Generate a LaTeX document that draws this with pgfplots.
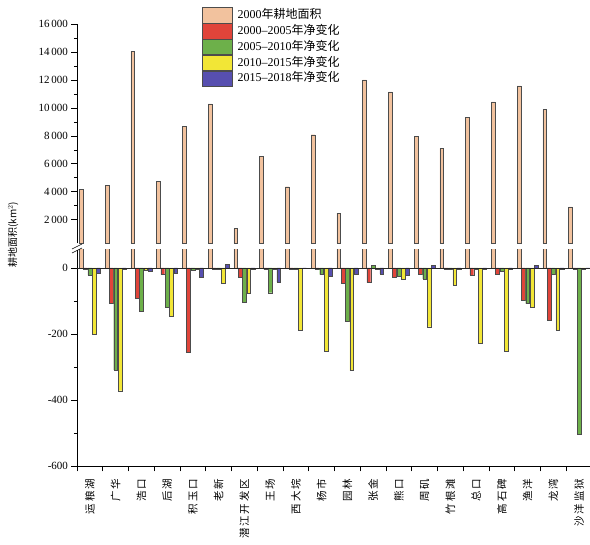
\documentclass[border=0pt]{standalone}
\usepackage{pgfplots}
\usepackage{pgfplotstable}
\pgfplotsset{compat=1.18}
\usepackage{fontspec}
\setmainfont{Liberation Serif}
\newfontfamily\cjk{Noto Sans CJK SC}
\newfontfamily\cjkls[LetterSpace=17]{Noto Sans CJK SC}
\definecolor{cTan}{HTML}{F2C29E}
\definecolor{cRed}{HTML}{E0443A}
\definecolor{cGreen}{HTML}{6DB04A}
\definecolor{cYellow}{HTML}{F2E636}
\definecolor{cBlue}{HTML}{574FB0}

\pgfplotstableread{
x T R G Y B
1 4170 -3 -22 -200 -15
2 4450 -107 -309 -372 -4
3 14050 -91 -131 -6 -11
4 4760 -20 -118 -145 -15
5 8700 -254 -8 -5 -29
6 10280 -4 -3 -47 12
7 1370 -29 -104 -77 -5
8 6530 -5 -75 -3 -42
9 4360 -3 -4 -190 -2
10 8080 -4 -20 -251 -25
11 2480 -47 -162 -311 -18
12 12010 -44 8 -3 -18
13 11150 -29 -26 -33 -22
14 7940 -20 -33 -178 8
15 7100 -5 -3 -52 -3
16 9310 -22 -4 -229 -3
17 10430 -20 -10 -251 -3
18 11580 -98 -108 -120 8
19 9870 -157 -20 -188 -3
20 2920 -3 -505 -3 -2
}\data

\pgfplotsset{
  legbox/.style={legend image code/.code={\draw[fill=#1, draw=black!70, line width=0.4pt] (0pt,-4.5pt) rectangle (30pt,11pt);}},
  common/.style={
    scale only axis, width=515pt, xmin=0.5, xmax=20.5,
    ybar=0.5pt, bar width=3.8pt,
    axis y line*=left, tick align=outside,
    major tick length=5.5pt, minor tick length=3pt,
    scaled y ticks=false,
    y tick label style={/pgf/number format/assume math mode=true, /pgf/number format/1000 sep={\,}, font=\fontsize{11}{12}\selectfont},
    every axis plot/.append style={draw=black!70, line width=0.4pt},
    axis line style={black, line width=0.6pt},
    tick style={black, line width=0.6pt},
  }
}

\begin{document}
\begin{tikzpicture}
\begin{axis}[common, at={(77pt,301.5pt)}, anchor=south west, height=219.5pt,
  ymin=300, ymax=16000, ytick={2000,4000,...,16000}, minor y tick num=1,
  axis x line=none,
  ylabel={\cjk 耕地面积(km$^{2}$)},
  ylabel style={at={(axis description cs:-0.124,0.04)}, anchor=center, font=\fontsize{10}{12}\selectfont},
  legend style={at={(axis description cs:0.243,1.0775)}, anchor=north west, draw=none, fill=none, inner sep=0pt, row sep=0pt, column sep=5pt,
    nodes={inner sep=0pt, text height=11pt, text depth=4.5pt, anchor=base west},
    font=\fontsize{12}{14}\selectfont},
  legend cell align=left,
]
\addplot[fill=cTan, bar shift=-8.6pt, forget plot] table[x=x,y=T]{\data};
\addlegendimage{legbox=cTan}
\addlegendimage{legbox=cRed}
\addlegendimage{legbox=cGreen}
\addlegendimage{legbox=cYellow}
\addlegendimage{legbox=cBlue}
\legend{2000{\cjk 年耕地面积}, 2000--2005{\cjk 年净变化}, 2005--2010{\cjk 年净变化}, 2010--2015{\cjk 年净变化}, 2015--2018{\cjk 年净变化}}
\end{axis}
\begin{axis}[common, at={(77pt,79pt)}, anchor=south west, height=216pt,
  ymin=-600, ymax=54.5, ytick={-600,-400,-200,0}, minor y tick num=1,
  axis x line*=bottom,
  xtick={0.5,1.5,...,20.5}, xticklabels={},
  extra x ticks={1,2,...,20},
  extra x tick labels={运粮湖,广华,浩口,后湖,积玉口,老新,潜江开发区,王场,西大垸,杨市,园林,张金,熊口,周矶,竹根滩,总口,高石碑,渔洋,龙湾,沙洋监狱},
  extra x tick style={major tick length=0pt, tick label style={yshift=-13pt, rotate=90, anchor=east, inner sep=0pt, font=\cjkls\fontsize{10.5}{12}\selectfont}},
]
\addplot[fill=cTan] table[x=x,y=T]{\data};
\addplot[fill=cRed] table[x=x,y=R]{\data};
\addplot[fill=cGreen] table[x=x,y=G]{\data};
\addplot[fill=cYellow] table[x=x,y=Y]{\data};
\addplot[fill=cBlue] table[x=x,y=B]{\data};
\draw[black!85, line width=0.6pt] (axis cs:0.5,0) -- (axis cs:20.5,0);
\end{axis}
\draw[black, line width=0.6pt] (72pt,296pt) -- (82pt,301pt);
\draw[black, line width=0.6pt] (72pt,292pt) -- (82pt,297pt);
\pgfresetboundingbox
\path[use as bounding box] (0,0) rectangle (590pt,545pt);
\end{tikzpicture}
\end{document}
